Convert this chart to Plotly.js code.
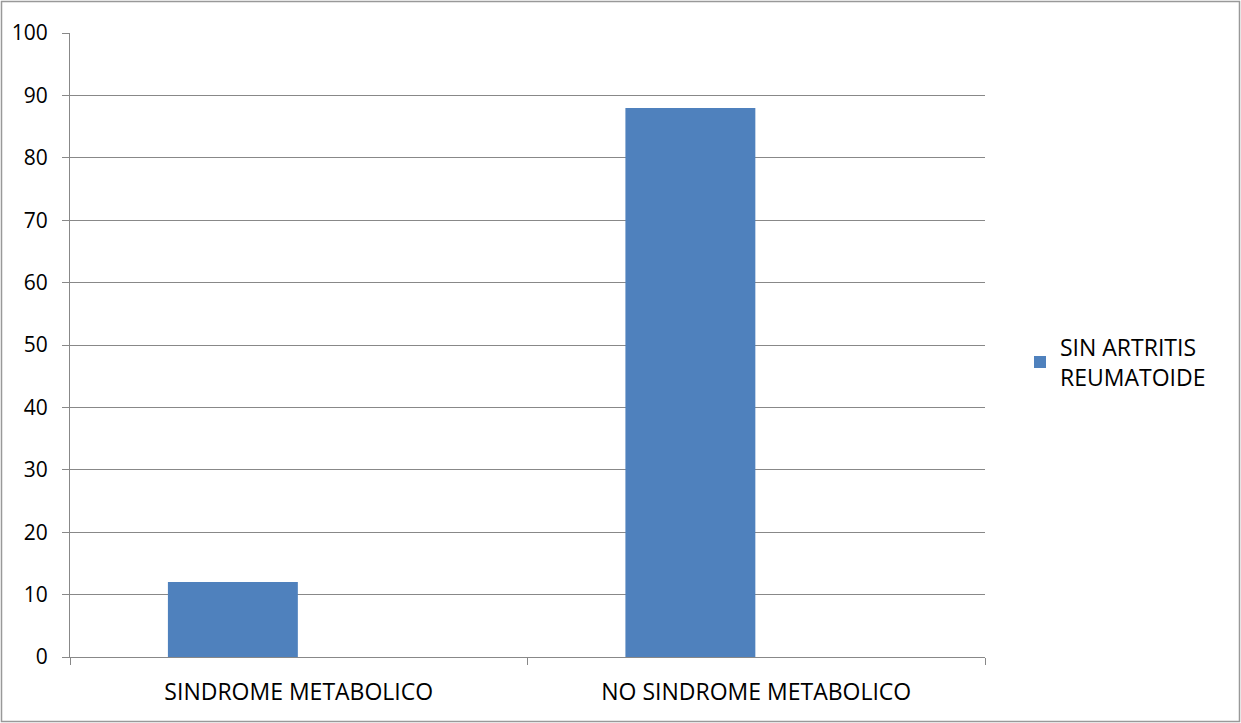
<!DOCTYPE html>
<html>
<head>
<meta charset="utf-8">
<script src="https://cdn.plot.ly/plotly-3.0.1.min.js"></script>
<style>
html,body{margin:0;padding:0;background:#fff;}
#chart{width:1241px;height:723px;}
</style>
</head>
<body>
<div id="chart"></div>
<script>
const categories = ["SINDROME METABOLICO", "NO SINDROME METABOLICO"];
const seriesName = "SIN ARTRITIS<br>REUMATOIDE";
const values = [12, 88];
const yTicks = [0, 10, 20, 30, 40, 50, 60, 70, 80, 90, 100];

const W = 1241, H = 723;
const m = {l: 70, r: 256, t: 33, b: 66};
const pw = W - m.l - m.r, ph = H - m.t - m.b;

const trace = {
  type: "bar",
  x: categories,
  y: values,
  name: seriesName,
  width: 0.284,
  offset: -0.286,
  marker: {color: "#4F81BD"},
  showlegend: true,
  hoverinfo: "x+y"
};

const layout = {
  width: W, height: H,
  margin: m,
  paper_bgcolor: "#fff",
  plot_bgcolor: "#fff",
  font: {family: "Open Sans, Liberation Sans, sans-serif", size: 21, color: "#000"},
  showlegend: true,
  legend: {
    x: (1020 - m.l) / pw, xanchor: "left",
    y: (657 - 362) / ph, yanchor: "middle",
    font: {size: 23, color: "#000"},
    itemwidth: 30,
    bgcolor: "rgba(0,0,0,0)"
  },
  xaxis: {
    type: "category",
    range: [-0.5, 1.5],
    tickson: "boundaries",
    ticks: "outside",
    ticklen: 7,
    tickcolor: "#888",
    showline: true,
    linecolor: "#888",
    linewidth: 1,
    showgrid: false,
    tickfont: {size: 23},
    ticklabelstandoff: 14,
    fixedrange: true
  },
  yaxis: {
    range: [0, 100],
    tickvals: yTicks,
    ticks: "outside",
    ticklen: 7,
    tickcolor: "#888",
    showline: true,
    linecolor: "#888",
    showgrid: true,
    gridcolor: "#888",
    gridwidth: 1,
    zeroline: false,
    tickfont: {size: 21},
    ticklabelstandoff: 10,
    fixedrange: true
  },
  shapes: [{
    type: "rect", xref: "paper", yref: "paper",
    x0: (1.5 - m.l) / pw, x1: (W - 1.5 - m.l) / pw,
    y0: (H - 1.5 - (H - m.b)) / -ph, y1: ((H - m.b) - 1.5) / ph,
    line: {color: "#999", width: 1.5},
    layer: "below"
  }]
};

Plotly.newPlot("chart", [trace], layout, {displayModeBar: false, staticPlot: true});
</script>
</body>
</html>
